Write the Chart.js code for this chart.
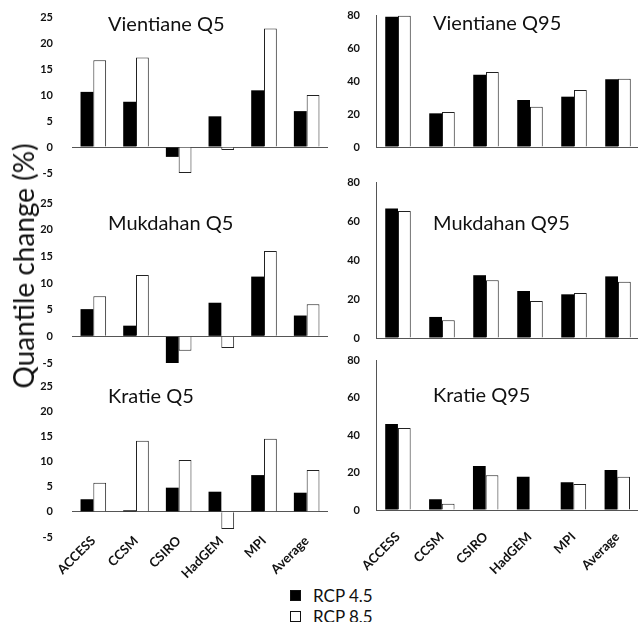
<!DOCTYPE html>
<html>
<head>
<meta charset="utf-8">
<script src="https://cdn.jsdelivr.net/npm/chart.js@4.4.1/dist/chart.umd.min.js"></script>
<style>
html, body { margin: 0; padding: 0; width: 638px; height: 622px; overflow: hidden; background: #fff; font-family: Lato, sans-serif; color: #111; }
canvas { position: absolute; }
.title { position: absolute; font-size: 20px; line-height: 1; white-space: nowrap; }
#ytitle { position: absolute; left: 23px; top: 266px; font-size: 28px; line-height: 1; white-space: nowrap; transform: translate(-50%, -50%) rotate(-90deg); }
.key { position: absolute; width: 9px; height: 9px; border: 1px solid #111; }
.keytxt { position: absolute; font-size: 17px; line-height: 1; }
</style>
</head>
<body>
<canvas id="vq5" width="340" height="185" style="left:0;top:0"></canvas>
<canvas id="vq95" width="330" height="160" style="left:318px;top:0"></canvas>
<canvas id="mq5" width="340" height="185" style="left:0;top:190px"></canvas>
<canvas id="mq95" width="330" height="180" style="left:318px;top:170px"></canvas>
<canvas id="kq5" width="340" height="207" style="left:0;top:375px"></canvas>
<canvas id="kq95" width="330" height="225" style="left:318px;top:350px"></canvas>

<div class="title" style="left:108px;top:13px">Vientiane Q5</div>
<div class="title" style="left:433px;top:12px">Vientiane Q95</div>
<div class="title" style="left:108px;top:212px">Mukdahan Q5</div>
<div class="title" style="left:433px;top:212px">Mukdahan Q95</div>
<div class="title" style="left:108px;top:385px">Kratie Q5</div>
<div class="title" style="left:433px;top:384px">Kratie Q95</div>
<div id="ytitle">Quantile change (%)</div>

<div class="key" style="left:290px;top:590px;background:#000"></div>
<div class="keytxt" style="left:313px;top:587px">RCP 4.5</div>
<div class="key" style="left:290px;top:611px;background:#fff"></div>
<div class="keytxt" style="left:313px;top:608px">RCP 8.5</div>

<script>
// models on the x axis
const models = ['ACCESS', 'CCSM', 'CSIRO', 'HadGEM', 'MPI', 'Average'];
const seriesNames = ['RCP 4.5', 'RCP 8.5'];

// Vientiane
const vientianeQ5_45 = [10.6, 8.7, -1.9, 5.9, 10.9, 6.9];
const vientianeQ5_85 = [16.7, 17.2, -5, -0.6, 22.8, 10.0];
const vientianeQ95_45 = [79.0, 20.4, 43.8, 28.5, 30.5, 41.0];
const vientianeQ95_85 = [79.6, 21.2, 45.5, 24.4, 34.5, 41.4];

// Mukdahan
const mukdahanQ5_45 = [5.1, 2.0, -5.0, 6.3, 11.2, 3.9];
const mukdahanQ5_85 = [7.5, 11.5, -2.7, -2.2, 16.0, 6.0];
const mukdahanQ95_45 = [66.4, 10.8, 32.2, 24.1, 22.4, 31.6];
const mukdahanQ95_85 = [65.1, 9.1, 29.6, 19.0, 23.1, 28.9];

// Kratie
const kratieQ5_45 = [2.5, 0.3, 4.8, 4.0, 7.3, 3.8];
const kratieQ5_85 = [5.8, 14.1, 10.3, -3.4, 14.5, 8.3];
const kratieQ95_45 = [45.9, 5.7, 23.5, 17.8, 14.8, 21.3];
const kratieQ95_85 = [43.7, 3.4, 18.5, 0, 13.9, 17.8];

// axis ranges
const q5Range = [-5, 25, 5];
const q95Range = [0, 80, 20];

function makePanel(id, d45, d85, range, p) {
    const ctx = document.getElementById(id);
    return new Chart(ctx, {
        type: 'bar',
        data: {
            labels: models,
            datasets: [{
                label: seriesNames[0],
                data: d45,
                backgroundColor: '#000',
                borderWidth: 0,
                categoryPercentage: p.cat,
                barPercentage: 1.0
            }, {
                label: seriesNames[1],
                data: d85,
                backgroundColor: '#fff',
                borderColor: '#222',
                borderWidth: 1,
                categoryPercentage: p.cat,
                barPercentage: 1.0
            }]
        },
        options: {
            responsive: false,
            animation: false,
            devicePixelRatio: 1,
            layout: { padding: { top: p.top, bottom: p.bottom, left: 0, right: p.right } },
            plugins: {
                legend: false,
                tooltip: { enabled: false }
            },
            scales: {
                x: {
                    grid: { display: false, drawTicks: false },
                    border: { display: false },
                    ticks: {
                        display: p.labels,
                        minRotation: 45,
                        maxRotation: 45,
                        padding: p.xpad || 0,
                        color: '#111',
                        font: { family: 'Lato', size: 13, weight: 'bold' }
                    },
                    afterFit(s) { s.height = p.xh || 0; },
                    // labels sit next to the zero line, so don't clip them to the scale box
                    afterUpdate(s) { s._computeLabelArea = () => undefined; }
                },
                y: {
                    min: range[0],
                    max: range[1],
                    ticks: {
                        stepSize: range[2],
                        padding: 0,
                        color: '#111',
                        font: { family: 'Lato', size: 11, weight: 'bold' }
                    },
                    grid: {
                        // invisible tick marks keep the labels away from the plot
                        tickLength: p.ygap,
                        tickColor: 'rgba(0,0,0,0)',
                        color: c => c.tick && c.tick.value === 0 ? '#555' : 'rgba(0,0,0,0)'
                    },
                    border: { display: p.axis, color: '#555' },
                    afterFit(s) { s.width = p.yw; }
                }
            }
        }
    });
}

// left column: Q5
makePanel('vq5', vientianeQ5_45, vientianeQ5_85, q5Range,
    { cat: 0.6, top: 17, bottom: 12, right: 12, yw: 72, ygap: 19, axis: false, labels: false });
makePanel('mq5', mukdahanQ5_45, mukdahanQ5_85, q5Range,
    { cat: 0.6, top: 13, bottom: 12, right: 12, yw: 72, ygap: 19, axis: false, labels: false });
makePanel('kq5', kratieQ5_45, kratieQ5_85, q5Range,
    { cat: 0.6, top: 11, bottom: 0, right: 12, yw: 72, ygap: 19, axis: false, labels: true, xh: 45, xpad: -4 });

// right column: Q95
makePanel('vq95', vientianeQ95_45, vientianeQ95_85, q95Range,
    { cat: 0.58, top: 15, bottom: 13, right: 8, yw: 58, ygap: 16, axis: true, labels: false });
makePanel('mq95', mukdahanQ95_45, mukdahanQ95_85, q95Range,
    { cat: 0.58, top: 12, bottom: 12, right: 8, yw: 58, ygap: 16, axis: true, labels: false });
makePanel('kq95', kratieQ95_45, kratieQ95_85, q95Range,
    { cat: 0.58, top: 10, bottom: 0, right: 8, yw: 58, ygap: 16, axis: true, labels: true, xh: 65, xpad: 19 });
</script>
</body>
</html>
